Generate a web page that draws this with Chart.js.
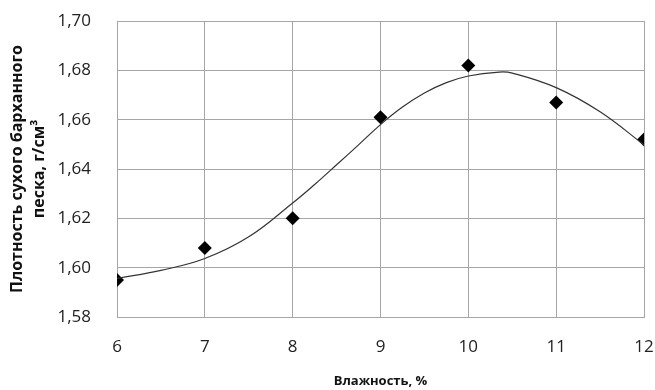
<!DOCTYPE html>
<html>
<head>
<meta charset="utf-8">
<script src="https://cdn.jsdelivr.net/npm/chart.js@4.4.1/dist/chart.umd.min.js"></script>
<style>
    html, body { margin: 0; padding: 0; background: #fff; }
    #wrap { width: 655px; height: 390px; }
</style>
</head>
<body>
<div id="wrap"><canvas id="densityChart"></canvas></div>
<script>
// measured points
const moisture = [6, 7, 8, 9, 10, 11, 12];
const density = [1.595, 1.608, 1.620, 1.661, 1.682, 1.667, 1.652];

// trend curve
const trendX = [6, 6.5, 7, 7.5, 8, 8.25, 8.5, 8.75, 9, 9.25, 9.5, 9.75, 10, 10.35, 10.5, 11, 11.5, 12];
const trendY = [1.5956, 1.5989, 1.6037, 1.6125, 1.6262, 1.6337, 1.6417, 1.6498, 1.658, 1.6651, 1.6708, 1.675, 1.6777, 1.6793, 1.6789, 1.673, 1.6632, 1.6498];

const xTicks = [6, 7, 8, 9, 10, 11, 12];
const yTicks = [1.58, 1.60, 1.62, 1.64, 1.66, 1.68, 1.70];

const gridColor = '#a6a6a6';
const tickFont = { family: 'Open Sans', size: 17 };

new Chart(document.getElementById('densityChart'), {
    type: 'scatter',
    data: {
        datasets: [
            {
                type: 'line',
                data: trendX.map((x, i) => ({ x, y: trendY[i] })),
                borderColor: '#333',
                borderWidth: 1.2,
                pointRadius: 0,
                tension: 0.4,
                fill: false
            },
            {
                data: moisture.map((x, i) => ({ x, y: density[i] })),
                pointStyle: 'rectRot',
                pointRadius: 7,
                backgroundColor: '#000',
                borderColor: '#000',
                borderWidth: 0
            }
        ]
    },
    options: {
        responsive: true,
        maintainAspectRatio: false,
        animation: false,
        layout: { autoPadding: false, padding: { top: 21, right: 11, left: 0, bottom: 0 } },
        plugins: { legend: { display: false }, tooltip: { enabled: false } },
        scales: {
            x: {
                type: 'linear',
                min: 6, max: 12,
                afterBuildTicks: s => { s.ticks = xTicks.map(v => ({ value: v })); },
                afterFit: s => { s.height = 73; s.paddingLeft = 0; s.paddingRight = 0; },
                grid: { color: gridColor, drawTicks: false },
                border: { color: gridColor },
                ticks: { color: '#222', font: tickFont, padding: 20 },
                title: {
                    display: true,
                    text: 'Влажность, %',
                    color: '#111',
                    font: { family: 'Open Sans', size: 13, weight: 'bold' },
                    padding: { top: 0, bottom: 1 }
                }
            },
            y: {
                min: 1.58, max: 1.70,
                afterBuildTicks: s => { s.ticks = yTicks.map(v => ({ value: v })); },
                afterFit: s => { s.width = 117; s.paddingTop = 0; s.paddingBottom = 0; },
                grid: { color: gridColor, drawTicks: false },
                border: { color: gridColor },
                ticks: { color: '#222', font: tickFont, padding: 26, callback: v => v.toFixed(2).replace('.', ',') },
                title: {
                    display: true,
                    text: ['Плотность сухого барханного', 'песка, г/см³'],
                    color: '#111',
                    font: { family: 'Open Sans', size: 16, weight: 'bold', lineHeight: 1.4 },
                    padding: { top: 6, bottom: 0 }
                }
            }
        }
    }
});
</script>
</body>
</html>
